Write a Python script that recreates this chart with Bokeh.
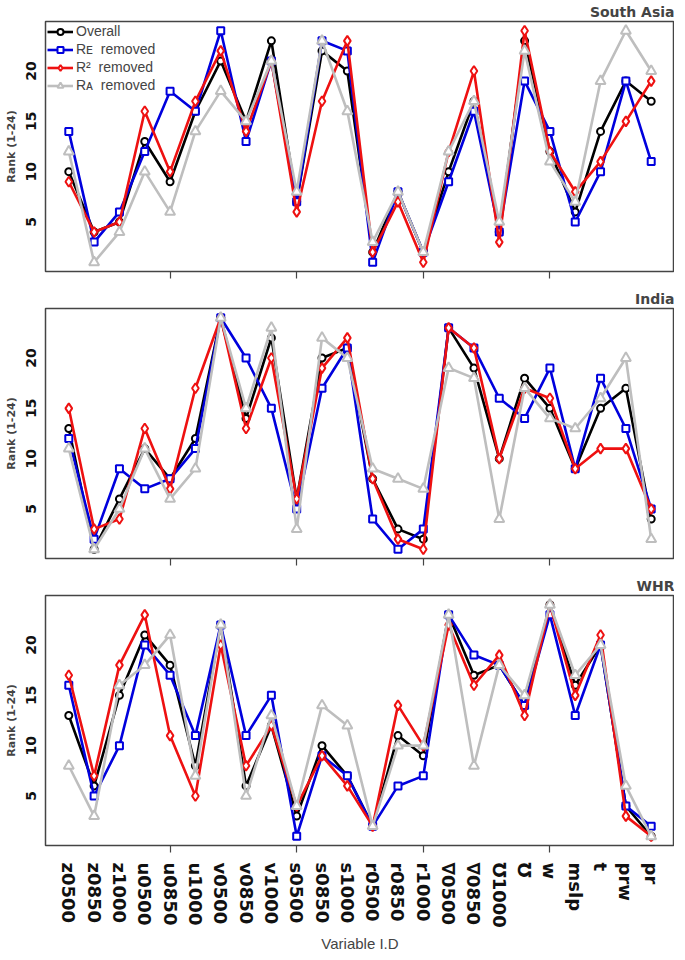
from bokeh.plotting import figure
from bokeh.models import Range1d, FixedTicker, Legend, LegendItem
from bokeh.layouts import column
from bokeh.embed import file_html
from bokeh.resources import INLINE

variables = ["z0500", "z0850", "z1000", "u0500", "u0850", "u1000", "v0500", "v0850",
             "v1000", "s0500", "s0850", "s1000", "r0500", "r0850", "r1000", "\u22070500",
             "\u22070850", "\u21271000", "\u2127", "w", "mslp", "t", "prw", "pr"]

# South Asia
sa_overall = [10, 4, 5, 13, 9, 16, 21, 15, 23, 7, 22, 20, 2, 8, 2, 10, 17, 4, 23, 12, 6, 14, 19, 17]
sa_re      = [14, 3, 6, 12, 18, 16, 24, 13, 21, 7, 23, 22, 1, 8, 2, 9, 16, 4, 19, 14, 5, 10, 19, 11]
sa_r2      = [9, 4, 5, 16, 10, 17, 22, 14, 21, 6, 17, 23, 2, 7, 1, 12, 20, 3, 24, 12, 8, 11, 15, 19]
sa_ra      = [12, 1, 4, 10, 6, 14, 18, 15, 21, 8, 23, 16, 3, 8, 2, 12, 17, 5, 22, 11, 7, 19, 24, 20]

# India
in_overall = [13, 1, 6, 11, 8, 12, 24, 14, 22, 6, 20, 21, 8, 3, 2, 23, 19, 10, 18, 15, 9, 15, 17, 4]
in_re      = [12, 2, 9, 7, 8, 11, 24, 20, 15, 5, 17, 21, 4, 1, 3, 23, 21, 16, 14, 19, 9, 18, 13, 5]
in_r2      = [15, 3, 4, 13, 7, 17, 24, 13, 20, 6, 19, 22, 8, 2, 1, 23, 21, 10, 17, 16, 9, 11, 11, 5]
in_ra      = [11, 1, 5, 11, 6, 9, 24, 15, 23, 3, 22, 20, 9, 8, 7, 19, 18, 4, 17, 14, 13, 16, 20, 2]

# WHR
whr_overall = [13, 6, 15, 21, 18, 8, 22, 6, 12, 3, 10, 7, 2, 11, 9, 23, 17, 18, 14, 24, 16, 20, 4, 1]
whr_re      = [16, 5, 10, 20, 17, 11, 22, 11, 15, 1, 9, 7, 2, 6, 7, 23, 19, 18, 14, 23, 13, 20, 4, 2]
whr_r2      = [17, 7, 18, 23, 11, 5, 20, 8, 12, 4, 9, 6, 2, 14, 10, 22, 16, 19, 13, 24, 15, 21, 3, 1]
whr_ra      = [8, 3, 16, 18, 21, 7, 22, 5, 13, 4, 14, 12, 2, 10, 10, 23, 8, 18, 15, 24, 17, 20, 6, 1]

series_labels = ["Overall", "R\u1d07  removed", "R\u00b2  removed", "R\u1d00  removed"]
panel_titles = ["South Asia", "India", "WHR"]
x_ticks = [5, 10, 15, 20]
y_ticks = [5, 10, 15, 20]

colors = ["#000000", "#0000DD", "#EE1111", "#BEBEBE"]
markers = ["circle", "square", "diamond", "triangle"]
msizes = [7, 7, 10, 10]

x = list(range(1, len(variables) + 1))
BOX = "#444444"


def make_panel(title, data, legend=False, labels=False):
    p = figure(frame_width=629, frame_height=250,
               x_range=Range1d(0.08, 24.92), y_range=Range1d(0.08, 24.92),
               output_backend="svg", toolbar_location=None,
               min_border_left=45, min_border_right=0, min_border_top=0,
               min_border_bottom=16)
    p.grid.visible = False
    p.outline_line_color = BOX
    p.outline_line_width = 1.5
    p.background_fill_color = "white"

    p.title.text = title
    p.title.align = "right"
    p.title.text_font = "DejaVu Sans"
    p.title.text_font_size = "14px"
    p.title.text_font_style = "bold"
    p.title.standoff = 3

    ya = p.yaxis[0]
    ya.ticker = FixedTicker(ticks=y_ticks)
    ya.major_tick_out = 0
    ya.major_tick_in = 0
    ya.minor_tick_line_color = None
    ya.axis_line_color = None
    ya.major_label_orientation = "vertical"
    ya.major_label_text_font = "DejaVu Sans"
    ya.major_label_text_font_style = "bold"
    ya.major_label_text_font_size = "14px"
    ya.major_label_text_color = "#111111"
    ya.major_label_standoff = 9
    ya.axis_label = "Rank (1-24)"
    ya.axis_label_text_font = "DejaVu Sans"
    ya.axis_label_text_font_style = "bold"
    ya.axis_label_text_font_size = "11px"
    ya.axis_label_standoff = 6

    xa = p.xaxis[0]
    xa.axis_line_color = None
    xa.major_tick_in = 0
    xa.minor_tick_in = 0
    xa.minor_tick_out = 7
    xa.minor_tick_line_color = BOX
    xa.minor_tick_line_width = 1.2
    if labels:
        xa.ticker = FixedTicker(ticks=x, minor_ticks=x_ticks)
        xa.major_label_overrides = {i + 1: v for i, v in enumerate(variables)}
        xa.major_tick_line_color = None
        xa.major_tick_out = 0
        xa.major_label_orientation = "vertical"
        xa.major_label_text_font = "DejaVu Sans"
        xa.major_label_text_font_style = "bold"
        xa.major_label_text_font_size = "18px"
        xa.major_label_text_color = "#111111"
        xa.major_label_standoff = 10
        xa.axis_label = "Variable I.D"
        xa.axis_label_text_font = "Liberation Sans"
        xa.axis_label_text_font_style = "normal"
        xa.axis_label_text_font_size = "15px"
        xa.axis_label_standoff = 4
    else:
        xa.ticker = FixedTicker(ticks=[], minor_ticks=x_ticks)
        xa.major_tick_line_color = None

    items = []
    for ys, c, m, s, lab in zip(data, colors, markers, msizes, series_labels):
        lr = p.line(x, ys, line_color=c, line_width=2.6)
        sr = p.scatter(x, ys, marker=m, size=s, line_color=c, fill_color="white",
                       line_width=2)
        items.append(LegendItem(label=lab, renderers=[lr, sr]))

    if legend:
        lg = Legend(items=items, location="top_left")
        lg.label_text_font = "Liberation Sans"
        lg.label_text_font_size = "14px"
        lg.glyph_width = 26
        lg.glyph_height = 15
        lg.label_height = 15
        lg.spacing = 2
        lg.padding = 2
        lg.margin = 2
        lg.label_standoff = 3
        lg.border_line_color = None
        lg.background_fill_alpha = 0
        p.add_layout(lg)
    return p


p1 = make_panel(panel_titles[0], [sa_overall, sa_re, sa_r2, sa_ra], legend=True)
p2 = make_panel(panel_titles[1], [in_overall, in_re, in_r2, in_ra])
p3 = make_panel(panel_titles[2], [whr_overall, whr_re, whr_r2, whr_ra], labels=True)

layout = column(p1, p2, p3, spacing=0)
open("out.html", "w").write(file_html(layout, INLINE))
